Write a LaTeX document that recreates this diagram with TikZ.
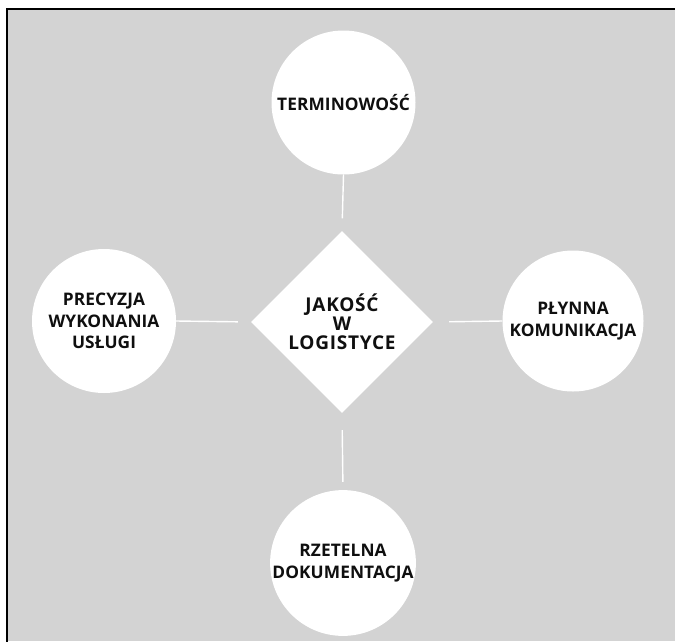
\documentclass[tikz,border=0pt]{standalone}
\usepackage{fontspec}
\setmainfont{Open Sans}
\newfontfamily\topicfont[LetterSpace=0.5]{Open Sans}
\newfontfamily\corefont[LetterSpace=4]{Open Sans}
\usetikzlibrary{shapes.geometric}
\definecolor{bggray}{RGB}{211,211,211}
\definecolor{txt}{RGB}{15,15,15}
\tikzset{
  topic/.style={circle, fill=white, minimum size=144pt, inner sep=0pt, align=center,
    text=txt, font=\topicfont\bfseries\fontsize{17.3}{21.5}\selectfont},
  core/.style={diamond, fill=white, minimum size=182pt, aspect=1, inner sep=0pt, align=center,
    text=txt, font=\corefont\bfseries\fontsize{19}{19}\selectfont},
  link/.style={draw=white, line width=1.4pt}
}
\begin{document}
\begin{tikzpicture}[x=1pt,y=-1pt]
\useasboundingbox (0,0) rectangle (675,641);
\fill[white] (0,0) rectangle (675,641);
\fill[bggray] (6.5,9) rectangle (675,641);
\draw[black, line width=2pt] (6.5,645) -- (6.5,9) -- (680,9);

\node[core] (c) at (342,322) {JAKOŚĆ\\W\\LOGISTYCE};
\node[topic] (t) at (343.5,102.5) {TERMINOWOŚĆ};
\node[topic] (l) at (104,321) {PRECYZJA\\WYKONANIA\\USŁUGI};
\node[topic, minimum size=141pt] (r) at (573,321) {PŁYNNA\\KOMUNIKACJA};
\node[topic, minimum size=142pt] (b) at (343,563) {RZETELNA\\DOKUMENTACJA};

\draw[link, shorten >=12.5pt] (t.south) -- (c.north);
\draw[link, shorten >=13pt] (l.east) -- (c.west);
\draw[link, shorten <=16pt] (c.east) -- (r.west);
\draw[link, shorten <=17pt, shorten >=8pt] (c.south) -- (b.north);
\end{tikzpicture}
\end{document}
